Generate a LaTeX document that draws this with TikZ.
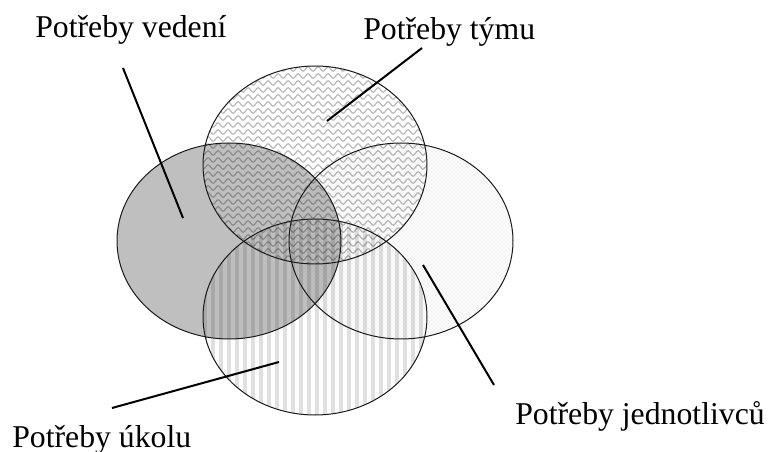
\documentclass[tikz,border=0pt]{standalone}
\usepackage{fontspec}
\setmainfont{Liberation Serif}
\usetikzlibrary{patterns,decorations.pathmorphing}
\tikzset{tag/.style={font=\fontsize{23.8}{28}\selectfont,inner sep=0pt,anchor=base west},lead/.style={line width=1.5pt},rim/.style={draw=black!90,line width=.75pt}}
\tikzset{waves/.style={black,opacity=.27,line width=.9pt,decorate,decoration={snake,amplitude=1.7pt,segment length=7.5pt}},stripe/.style={black,opacity=.12,line width=3pt}}
\newcommand{\tym}{(315,165) ellipse [x radius=84pt,y radius=74.25pt]}
\newcommand{\ved}{(229,241) ellipse [x radius=84pt,y radius=73.5pt]}
\newcommand{\jed}{(401,241) ellipse [x radius=84pt,y radius=73.5pt]}
\newcommand{\uko}{(315,317) ellipse [x radius=84pt,y radius=73.5pt]}
\begin{document}
\begin{tikzpicture}[x=.75pt,y=-.75pt]
\useasboundingbox (0,0) rectangle (768,452);
% Remplissages : points, vagues, bandes, puis le gris par-dessus.
\fill[pattern=crosshatch dots,pattern color=black!20] \jed;
\begin{scope}\clip \tym;\foreach \y in {62,69,...,272}\draw[waves] (195,\y)--(435,\y);\end{scope}
\begin{scope}\clip \uko;\foreach \x in {205,213,...,430}\draw[stripe] (\x,210)--(\x,420);\end{scope}
\fill[black,fill opacity=.25] \ved;
\draw[rim] \ved \tym \jed \uko;
\node[tag] (ved) at (35,38){Potřeby vedení};\node[tag] (tym) at (363,40){Potřeby týmu};
\node[tag] (uko) at (12,447){Potřeby úkolu};\node[tag] (jed) at (515,425){Potřeby jednotlivců};
\coordinate (vedA) at (123,68);\coordinate (vedB) at (183,218);\draw[lead] (vedA)--(vedB);
\coordinate (tymA) at (422,48);\coordinate (tymB) at (327,121);\draw[lead] (tymA)--(tymB);
\coordinate (jedA) at (494,385);\coordinate (jedB) at (423,265);\draw[lead] (jedA)--(jedB);
\coordinate (ukoA) at (112,408);\coordinate (ukoB) at (279,362);\draw[lead] (ukoA)--(ukoB);
\end{tikzpicture}
\end{document}
